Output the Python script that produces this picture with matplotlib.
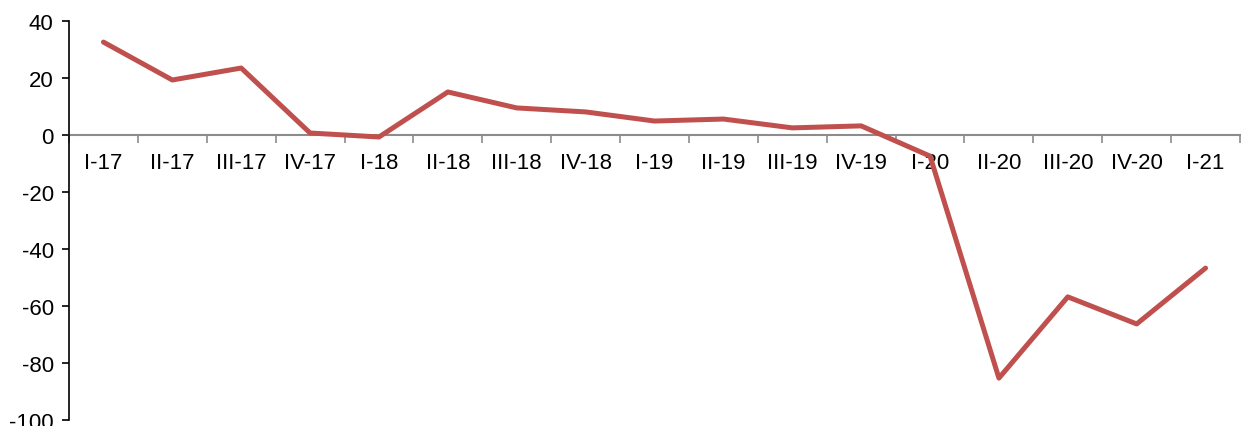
import matplotlib
matplotlib.use("Agg")
import matplotlib.pyplot as plt
import numpy as np
from matplotlib.ticker import FixedLocator, NullFormatter, FixedFormatter

categories = ["I-17", "II-17", "III-17", "IV-17", "I-18", "II-18", "III-18", "IV-18",
              "I-19", "II-19", "III-19", "IV-19", "I-20", "II-20", "III-20", "IV-20", "I-21"]
values = [32.6, 19.3, 23.5, 0.7, -0.7, 15.1, 9.5, 8.1, 4.9, 5.6, 2.5, 3.2, -7.4,
          -85.3, -56.8, -66.3, -46.7]
yticks = [-100, -80, -60, -40, -20, 0, 20, 40]

plt.rcParams['font.family'] = ['Liberation Sans', 'DejaVu Sans']

fig = plt.figure(figsize=(12.41, 4.27), dpi=100)
ax = fig.add_axes([69/1241, 1 - 421/427, (1240 - 69)/1241, (421 - 22)/427])

n = len(categories)
x = np.arange(n)
ax.plot(x, values, color="#C0504D", linewidth=3.6, solid_joinstyle="round", solid_capstyle="round", zorder=3)

ax.set_xlim(-0.5, n - 0.5)
ax.set_ylim(-100, 40)
ax.set_yticks(yticks)
ax.set_yticklabels([str(t) for t in yticks], fontsize=16)

for s in ["top", "right"]:
    ax.spines[s].set_visible(False)
ax.spines["left"].set_color("black")
ax.spines["left"].set_linewidth(1.2)
ax.spines["bottom"].set_position(("data", 0))
ax.spines["bottom"].set_color("#8c8c8c")
ax.spines["bottom"].set_linewidth(1.5)
ax.spines["bottom"].set_zorder(2)

ax.tick_params(axis="y", direction="out", length=5, width=1.2, color="black", pad=6)
ax.xaxis.set_major_locator(FixedLocator(np.arange(-0.5, n, 1.0)))
ax.xaxis.set_major_formatter(NullFormatter())
ax.xaxis.set_minor_locator(FixedLocator(x))
ax.xaxis.set_minor_formatter(FixedFormatter(categories))
ax.tick_params(axis="x", which="major", direction="out", length=6, width=1.2, color="#8c8c8c")
ax.tick_params(axis="x", which="minor", length=0, pad=12, labelsize=16)

fig.savefig("out.png", dpi=100)
